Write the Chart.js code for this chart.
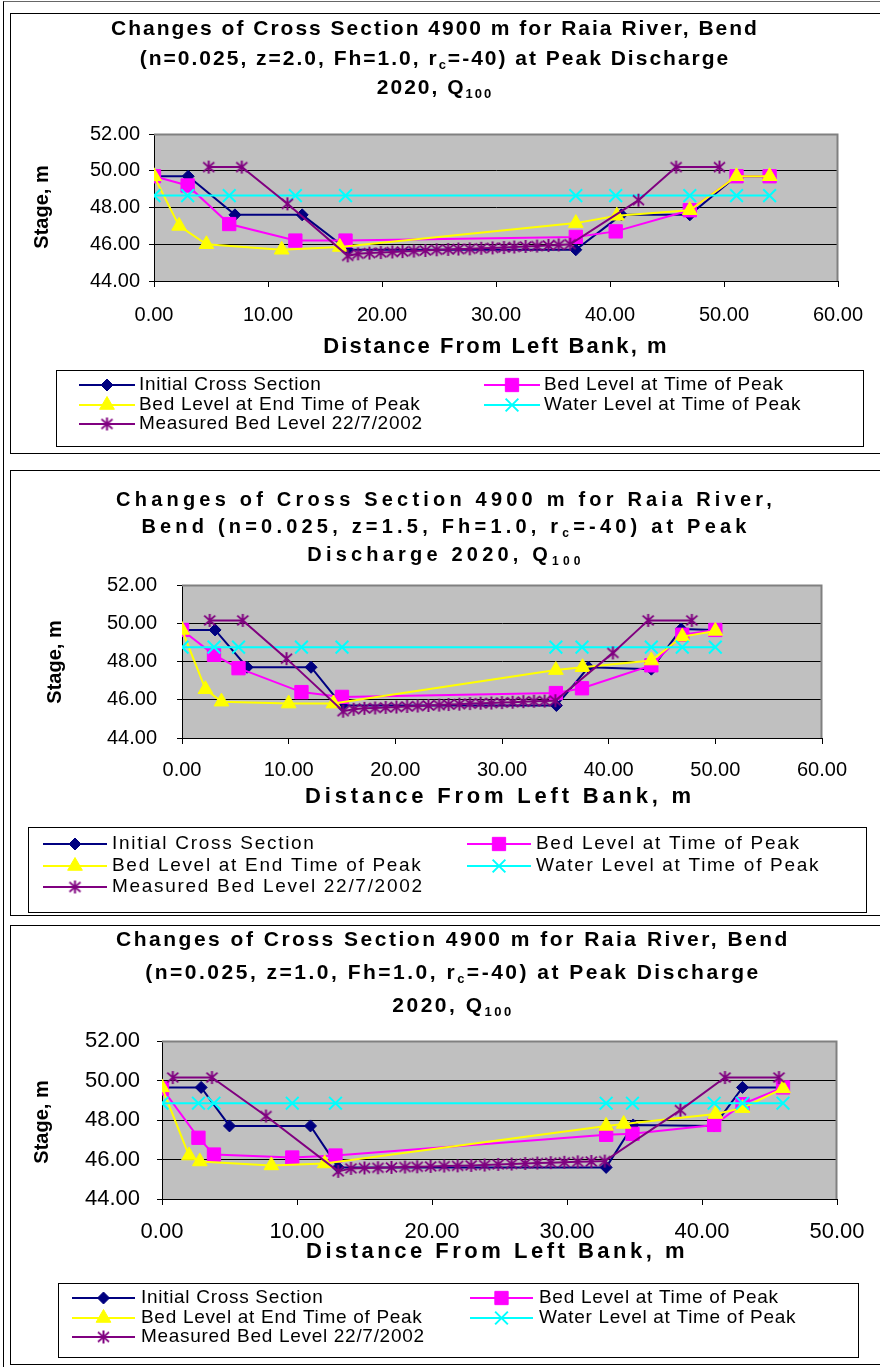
<!DOCTYPE html>
<html lang="en">
<head>
<meta charset="UTF-8">
<title>Raia River, cross section 4900 m</title>
<script src="https://cdn.jsdelivr.net/npm/chart.js@4.4.1/dist/chart.umd.min.js"></script>
<style>
  body { margin: 0; background: #fff; }
  .frame { position: absolute; left: 3px; top: 1px; width: 900px; height: 1366px; border-left: 1px solid #000; border-top: 1px solid #666; box-sizing: border-box; }
  .panel { position: absolute; left: 10px; width: 900px; border: 1px solid #000; box-sizing: border-box; }
  canvas { position: absolute; left: 11px; }
</style>
</head>
<body>
<div class="frame"></div>
<div class="panel" style="top:13px;height:441px"></div>
<div class="panel" style="top:470px;height:446px"></div>
<div class="panel" style="top:925px;height:440px"></div>
<canvas id="c1" width="869" height="439" style="top:14px"></canvas>
<canvas id="c2" width="869" height="444" style="top:471px"></canvas>
<canvas id="c3" width="869" height="438" style="top:926px"></canvas>
<script>
const names = ["Initial Cross Section", "Bed Level at Time of Peak", "Bed Level at End Time of Peak",
  "Water Level at Time of Peak", "Measured Bed Level 22/7/2002"];
const colors = ["#000080", "#ff00ff", "#ffff00", "#00ffff", "#800080"];
const yTicks = [44, 46, 48, 50, 52];

// ---- z = 2.0 ----
const initX1 = [0, 3.0, 7.1, 13.0, 17.0, 37.0, 41.0, 47.0, 51.1, 54.0];
const initY1 = [49.7, 49.7, 47.6, 47.6, 45.7, 45.7, 47.6, 47.6, 49.7, 49.7];
const peakX1 = [0, 2.95, 6.6, 12.4, 16.8, 37.0, 40.5, 47.0, 51.1, 54.0];
const peakY1 = [49.7, 49.2, 47.1, 46.2, 46.2, 46.4, 46.7, 47.85, 49.7, 49.7];
const endX1 = [0, 2.2, 4.6, 11.2, 16.3, 37.0, 40.6, 47.0, 51.1, 54.0];
const endY1 = [49.7, 47.0, 46.0, 45.7, 45.85, 47.15, 47.55, 47.85, 49.7, 49.7];
const waterX1 = [0, 2.95, 6.6, 12.4, 16.8, 37.0, 40.5, 47.0, 51.1, 54.0];
const waterY1 = [48.65, 48.65, 48.65, 48.65, 48.65, 48.65, 48.65, 48.65, 48.65, 48.65];
const measX1 = [4.8, 7.7, 11.7, 17.0, 17.9, 18.9, 19.9, 20.9, 21.8, 22.8, 23.8, 24.8, 25.8, 26.7, 27.7,
  28.7, 29.7, 30.7, 31.6, 32.6, 33.6, 34.6, 35.5, 36.5, 42.5, 45.8, 49.6];
const measY1 = [50.2, 50.2, 48.2, 45.37, 45.48, 45.52, 45.55, 45.58, 45.6, 45.63, 45.66, 45.7, 45.72, 45.74,
  45.75, 45.78, 45.8, 45.82, 45.85, 45.88, 45.9, 45.93, 45.96, 46.0, 48.4, 50.2, 50.2];

// ---- z = 1.5 ----
const initX2 = [0, 3.1, 6.1, 12.1, 15.0, 35.1, 38.1, 44.0, 46.8, 50.0];
const initY2 = [49.65, 49.65, 47.7, 47.7, 45.7, 45.7, 47.7, 47.6, 49.7, 49.65];
const peakX2 = [0, 3.0, 5.3, 11.2, 15.0, 35.05, 37.5, 44.0, 46.9, 50.0];
const peakY2 = [49.65, 48.35, 47.65, 46.4, 46.15, 46.35, 46.6, 47.8, 49.4, 49.65];
const endX2 = [0, 2.2, 3.7, 10.0, 14.2, 35.05, 37.55, 44.0, 46.9, 50.0];
const endY2 = [49.65, 46.55, 45.9, 45.8, 45.8, 47.55, 47.7, 48.05, 49.3, 49.6];
const waterX2 = [0, 3.0, 5.3, 11.2, 15.0, 35.05, 37.5, 44.0, 46.9, 50.0];
const waterY2 = [48.75, 48.75, 48.75, 48.75, 48.75, 48.75, 48.75, 48.75, 48.75, 48.75];
const measX2 = [2.6, 5.7, 9.8, 15.1, 16.1, 17.1, 18.1, 19.1, 20.1, 21.1, 22.1, 23.1, 24.1, 25.0, 26.0,
  27.0, 28.0, 29.0, 30.0, 31.0, 32.0, 33.0, 34.0, 35.0, 40.4, 43.7, 47.8];
const measY2 = [50.15, 50.15, 48.15, 45.4, 45.5, 45.55, 45.57, 45.6, 45.62, 45.65, 45.67, 45.7, 45.72, 45.75,
  45.77, 45.8, 45.82, 45.83, 45.85, 45.87, 45.9, 45.92, 45.93, 45.95, 48.45, 50.15, 50.15];

// ---- z = 1.0 ----
const initX3 = [0, 2.9, 5.0, 11.0, 13.05, 32.9, 34.9, 40.9, 43.0, 45.9];
const initY3 = [49.65, 49.65, 47.7, 47.7, 45.6, 45.6, 47.75, 47.7, 49.65, 49.65];
const peakX3 = [0, 2.7, 3.85, 9.65, 12.85, 32.9, 34.85, 40.9, 43.0, 46.0];
const peakY3 = [49.6, 47.1, 46.25, 46.1, 46.2, 47.25, 47.3, 47.75, 48.8, 49.65];
const endX3 = [0, 2.0, 2.8, 8.1, 12.05, 32.9, 34.2, 41.0, 43.0, 46.0];
const endY3 = [49.65, 46.2, 45.9, 45.7, 45.8, 47.7, 47.8, 48.3, 48.6, 49.6];
const waterX3 = [0, 2.7, 3.85, 9.65, 12.85, 32.9, 34.85, 40.9, 43.0, 46.0];
const waterY3 = [48.85, 48.85, 48.85, 48.85, 48.85, 48.85, 48.85, 48.85, 48.85, 48.85];
const measX3 = [0.8, 3.7, 7.7, 13.05, 14.0, 15.0, 16.0, 17.0, 18.0, 18.9, 19.9, 20.9, 21.9, 22.9, 23.9,
  24.9, 25.9, 26.9, 27.8, 28.8, 29.8, 30.8, 31.8, 32.8, 38.4, 41.7, 45.7];
const measY3 = [50.15, 50.15, 48.2, 45.4, 45.55, 45.57, 45.58, 45.6, 45.62, 45.63, 45.65, 45.67, 45.68, 45.7,
  45.72, 45.75, 45.77, 45.8, 45.82, 45.84, 45.86, 45.88, 45.9, 45.92, 48.5, 50.15, 50.15];

const titles1 = ["Changes of Cross Section 4900 m for Raia River, Bend",
  "(n=0.025, z=2.0, Fh=1.0, r_{c}=-40) at Peak Discharge", "2020, Q_{100}"];
const titles2 = ["Changes of Cross Section 4900 m for Raia River,",
  "Bend (n=0.025, z=1.5, Fh=1.0, r_{c}=-40) at Peak", "Discharge 2020, Q_{100}"];
const titles3 = ["Changes of Cross Section 4900 m for Raia River, Bend",
  "(n=0.025, z=1.0, Fh=1.0, r_{c}=-40) at Peak Discharge", "2020, Q_{100}"];
const xTitle = "Distance From Left Bank, m";
const yTitle = "Stage, m";

// Excel-like star marker: X with a vertical stroke
function starMark(color, size) {
  const c = document.createElement('canvas');
  c.width = c.height = size;
  const g = c.getContext('2d');
  const m = size / 2, r = size / 2 - 1;
  g.strokeStyle = color;
  g.lineWidth = 2;
  g.beginPath();
  g.moveTo(m - r * 0.85, m - r * 0.75); g.lineTo(m + r * 0.85, m + r * 0.75);
  g.moveTo(m + r * 0.85, m - r * 0.75); g.lineTo(m - r * 0.85, m + r * 0.75);
  g.moveTo(m, m - r); g.lineTo(m, m + r);
  g.stroke();
  return c;
}
const star = starMark(colors[4], 15);
const markers = [
  { pointStyle: 'rectRot', radius: 6, borderWidth: 1 },
  { pointStyle: 'rect', radius: 9.4, borderWidth: 1 },
  { pointStyle: 'triangle', radius: 8.5, borderWidth: 1 },
  { pointStyle: 'crossRot', radius: 9, borderWidth: 2 },
  { pointStyle: star, radius: 7, borderWidth: 2 }
];

function richSegs(str) {
  const out = [];
  const re = /_\{([^}]*)\}/g;
  let last = 0, m;
  while ((m = re.exec(str))) {
    if (m.index > last) out.push([str.slice(last, m.index), false]);
    out.push([m[1], true]);
    last = re.lastIndex;
  }
  if (last < str.length) out.push([str.slice(last), false]);
  return out;
}

function drawRich(ctx, str, cx, cy, f) {
  const segs = richSegs(str);
  const font = sub => `${f.weight || 'bold'} ${sub ? Math.round(f.size * 0.62) : f.size}px "Liberation Sans", Arial, sans-serif`;
  ctx.letterSpacing = (f.spacing || 0) + 'px';
  const widths = segs.map(([t, sub]) => { ctx.font = font(sub); return ctx.measureText(t).width; });
  const total = widths.reduce((a, b) => a + b, 0);
  let x = f.align === 'left' ? cx : cx - total / 2;
  ctx.textAlign = 'left';
  ctx.textBaseline = 'middle';
  ctx.fillStyle = '#000';
  segs.forEach(([t, sub], i) => {
    ctx.font = font(sub);
    ctx.fillText(t, x, cy + (sub ? f.size * 0.32 : 0));
    x += widths[i];
  });
}

const panelDecor = {
  id: 'panelDecor',
  beforeDraw(chart) {
    const { ctx, chartArea: a } = chart;
    ctx.save();
    ctx.fillStyle = '#c0c0c0';
    ctx.fillRect(a.left, a.top, a.right - a.left, a.bottom - a.top);
    ctx.restore();
  },
  beforeDatasetsDraw(chart) {
    const { ctx, chartArea: a } = chart;
    ctx.save();
    ctx.strokeStyle = '#808080';
    ctx.lineWidth = 2;
    ctx.beginPath();
    ctx.moveTo(a.left, a.top + 0.5);
    ctx.lineTo(a.right - 0.5, a.top + 0.5);
    ctx.lineTo(a.right - 0.5, a.bottom);
    ctx.stroke();
    ctx.restore();
  },
  afterDraw(chart, args, o) {
    const ctx = chart.ctx;
    ctx.save();
    o.titles.forEach((t, i) => drawRich(ctx, t, o.titleX, o.titleY[i], o.titleFont));
    drawRich(ctx, xTitle, o.xTitlePos[0], o.xTitlePos[1], o.axisFont);
    ctx.save();
    ctx.translate(o.yTitlePos[0], o.yTitlePos[1]);
    ctx.rotate(-Math.PI / 2);
    drawRich(ctx, yTitle, 0, 0, o.yAxisFont);
    ctx.restore();

    // legend box
    const L = o.legend;
    ctx.letterSpacing = '0px';
    ctx.strokeStyle = '#000';
    ctx.lineWidth = 1;
    ctx.strokeRect(L.box[0] + 0.5, L.box[1] + 0.5, L.box[2], L.box[3]);
    chart.data.datasets.forEach((ds, i) => {
      const lx = L.cols[i % 2], ly = L.rows[Math.floor(i / 2)];
      ctx.strokeStyle = ds.borderColor;
      ctx.lineWidth = 2;
      ctx.beginPath();
      ctx.moveTo(lx, ly);
      ctx.lineTo(lx + L.len, ly);
      ctx.stroke();
      ctx.fillStyle = ds.backgroundColor;
      ctx.lineWidth = ds.pointBorderWidth;
      Chart.helpers.drawPoint(ctx, { pointStyle: ds.pointStyle, radius: ds.pointRadius, borderWidth: ds.pointBorderWidth, rotation: 0 }, lx + L.len / 2, ly);
      drawRich(ctx, ds.label, lx + L.len + L.gap, ly, L.font);
    });
    ctx.restore();
  }
};

function buildChart(id, xs, ys, xMax, geo, deco) {
  const datasets = names.map((name, i) => ({
    label: name,
    data: xs[i].map((x, k) => ({ x: x, y: ys[i][k] })),
    borderColor: colors[i],
    backgroundColor: colors[i],
    borderWidth: 2,
    pointStyle: markers[i].pointStyle,
    pointRadius: markers[i].radius,
    pointBorderWidth: markers[i].borderWidth,
    pointHoverRadius: markers[i].radius,
    order: names.length - i,
    tension: 0
  }));
  return new Chart(document.getElementById(id), {
    type: 'line',
    data: { datasets: datasets },
    plugins: [panelDecor],
    options: {
      responsive: false,
      animation: false,
      devicePixelRatio: 1,
      layout: { padding: geo.padding },
      plugins: { legend: { display: false }, tooltip: { enabled: false }, title: { display: false }, panelDecor: deco },
      scales: {
        x: {
          type: 'linear', min: 0, max: xMax,
          afterFit: s => { s.height = 40; },
          ticks: { stepSize: 10, padding: geo.xPad, color: '#000', font: { family: '"Liberation Sans", Arial', size: geo.tickSize }, callback: v => v.toFixed(2) },
          grid: { drawOnChartArea: false, drawTicks: true, tickLength: 6, color: '#000' },
          border: { color: '#000', width: 1 }
        },
        y: {
          min: 44, max: 52,
          afterFit: s => { s.width = 80; },
          afterBuildTicks: s => { s.ticks = yTicks.map(v => ({ value: v })); },
          ticks: { padding: geo.yPad, color: '#000', font: { family: '"Liberation Sans", Arial', size: geo.tickSize }, callback: v => v.toFixed(2) },
          grid: { color: '#000', lineWidth: 1, tickLength: 5 },
          border: { color: '#000', width: 1 }
        }
      }
    }
  });
}

buildChart('c1', [initX1, peakX1, endX1, waterX1, measX1], [initY1, peakY1, endY1, waterY1, measY1], 60,
  { padding: { top: 120, left: 63, right: 42, bottom: 132 }, xPad: 16, yPad: 9, tickSize: 20 },
  { titles: titles1, titleX: 424, titleY: [15, 45, 74], titleFont: { size: 21, spacing: 2 },
    xTitlePos: [485, 333], axisFont: { size: 22, spacing: 2.1 }, yTitlePos: [31, 193], yAxisFont: { size: 20, spacing: 0 },
    legend: { box: [45, 356, 807, 76], rows: [371, 391, 410], cols: [68, 473], len: 56, gap: 4, font: { weight: 'normal', size: 19, spacing: 0.7, align: 'left' } } });

buildChart('c2', [initX2, peakX2, endX2, waterX2, measX2], [initY2, peakY2, endY2, waterY2, measY2], 60,
  { padding: { top: 114, left: 91, right: 58, bottom: 137 }, xPad: 14, yPad: 20, tickSize: 20 },
  { titles: titles2, titleX: 435, titleY: [29, 56, 84], titleFont: { size: 20, spacing: 4.2 },
    xTitlePos: [489, 326], axisFont: { size: 22, spacing: 3.8 }, yTitlePos: [44, 191], yAxisFont: { size: 20, spacing: 0 },
    legend: { box: [17, 356, 838, 85], rows: [373, 395, 416], cols: [32, 456], len: 64, gap: 5, font: { weight: 'normal', size: 19, spacing: 1.7, align: 'left' } } });

buildChart('c3', [initX3, peakX3, endX3, waterX3, measX3], [initY3, peakY3, endY3, waterY3, measY3], 50,
  { padding: { top: 115, left: 71, right: 43, bottom: 125 }, xPad: 14, yPad: 17, tickSize: 22 },
  { titles: titles3, titleX: 442, titleY: [14, 47, 80], titleFont: { size: 21, spacing: 2.5 },
    xTitlePos: [486, 326], axisFont: { size: 22, spacing: 3.5 }, yTitlePos: [31, 196], yAxisFont: { size: 20, spacing: 0 },
    legend: { box: [47, 357, 800, 74], rows: [372, 392, 411], cols: [61, 459], len: 63, gap: 6, font: { weight: 'normal', size: 19, spacing: 0.7, align: 'left' } } });
</script>
</body>
</html>
